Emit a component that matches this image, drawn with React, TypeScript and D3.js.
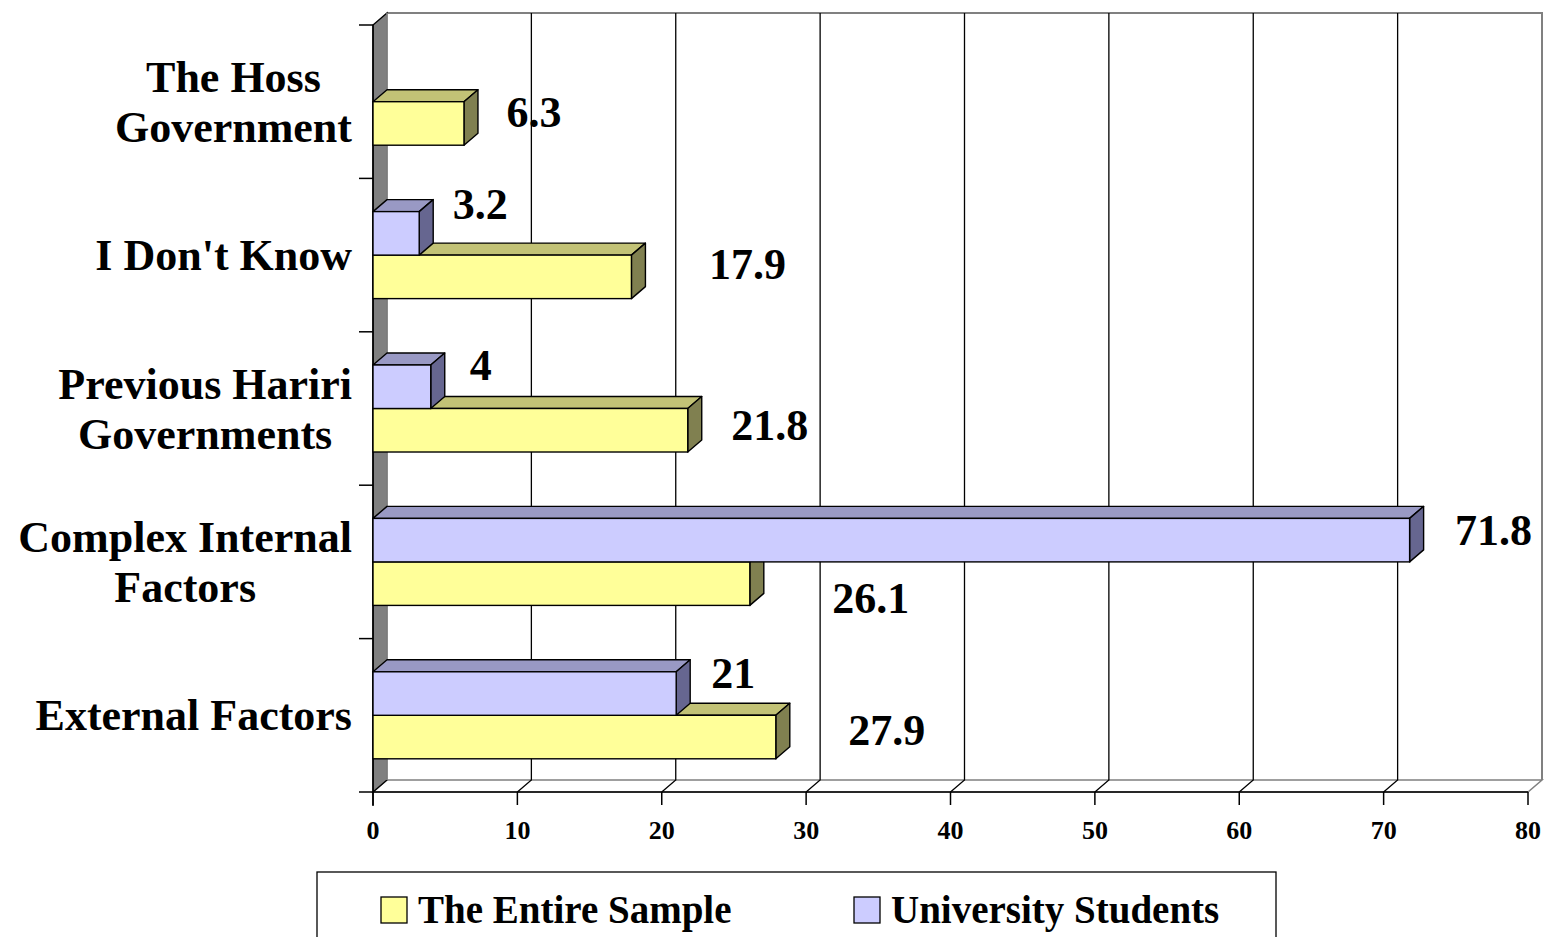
import React, { useEffect, useRef } from "react";
import * as d3 from "d3";

const categories = [
  "The Hoss Government",
  "I Don't Know",
  "Previous Hariri Governments",
  "Complex Internal Factors",
  "External Factors",
];
const categoryLines = [
  ["The Hoss", "Government"],
  ["I Don't Know"],
  ["Previous Hariri", "Governments"],
  ["Complex Internal", "Factors"],
  ["External Factors"],
];
const entireSample = [6.3, 17.9, 21.8, 26.1, 27.9];
const universityStudents: (number | null)[] = [null, 3.2, 4, 71.8, 21];
const xTicks = [0, 10, 20, 30, 40, 50, 60, 70, 80];
const seriesNames = ["The Entire Sample", "University Students"];

// label nudges (pixels): from bar end to label centre, from bar centre to baseline
const entireNudgeX = [70, 116, 82, 121, 111];
const entireNudgeY = [3.5, 2, 10, 29.5, 8];
const studentNudgeX = [0, 61, 50, 84, 57];
const studentNudgeY = [0, -14.5, -7, 5, -5.5];

const FONT = "'Liberation Serif', 'Times New Roman', serif";
const DX = 14;
const DY = -12;

const COLORS = {
  entire: { front: "#FFFF99", top: "#C2C276", side: "#808050" },
  students: { front: "#CCCCFF", top: "#9999C4", side: "#666690" },
};

export default function App() {
  const ref = useRef<SVGSVGElement>(null);

  useEffect(() => {
    const svg = d3.select(ref.current);
    svg.selectAll("*").remove();

    const x = d3.scaleLinear().domain([0, 80]).range([373, 1528]);
    const y = d3.scaleBand().domain(categories).range([25, 792]);
    const inner = d3
      .scaleBand()
      .domain(["students", "entire"])
      .range([0, y.bandwidth()])
      .paddingOuter(0.763);

    const x0 = x(0);
    const x1 = x(80);
    const yTop = 25;
    const yBot = 792;

    const g = svg.append("g");

    // floor
    g.append("path")
      .attr(
        "d",
        `M${x0},${yBot}L${x1},${yBot}L${x1 + DX},${yBot + DY}L${x0 + DX},${yBot + DY}Z`
      )
      .attr("fill", "#fff")
      .attr("stroke", "#808080")
      .attr("stroke-width", 1.5);

    // back wall outline
    g.append("path")
      .attr(
        "d",
        `M${x0 + DX},${yTop + DY}L${x1 + DX},${yTop + DY}L${x1 + DX},${yBot + DY}`
      )
      .attr("fill", "none")
      .attr("stroke", "#808080")
      .attr("stroke-width", 2);

    // gridlines
    xTicks.forEach((t) => {
      if (t === 0 || t === 80) return;
      const xt = x(t);
      g.append("path")
        .attr(
          "d",
          `M${xt},${yBot}L${xt + DX},${yBot + DY}L${xt + DX},${yTop + DY}`
        )
        .attr("fill", "none")
        .attr("stroke", "#000")
        .attr("stroke-width", 1.3);
    });

    // left wall
    g.append("path")
      .attr(
        "d",
        `M${x0},${yTop}L${x0 + DX},${yTop + DY}L${x0 + DX},${yBot + DY}L${x0},${yBot}Z`
      )
      .attr("fill", "#808080")
      .attr("stroke", "#000")
      .attr("stroke-width", 1.3);
    g.append("line")
      .attr("x1", x0 + DX)
      .attr("x2", x0 + DX)
      .attr("y1", yTop + DY)
      .attr("y2", yBot + DY)
      .attr("stroke", "#a8a8a8")
      .attr("stroke-width", 1.3);

    // category axis ticks
    const bounds = categories.map((c) => y(c)!).concat([yBot]);
    bounds.forEach((b) => {
      g.append("line")
        .attr("x1", x0 - 14)
        .attr("x2", x0)
        .attr("y1", b)
        .attr("y2", b)
        .attr("stroke", "#000")
        .attr("stroke-width", 1.5);
    });
    g.append("line")
      .attr("x1", x0)
      .attr("x2", x0)
      .attr("y1", yTop)
      .attr("y2", yBot + 14)
      .attr("stroke", "#000")
      .attr("stroke-width", 1.5);

    // value axis
    g.append("line")
      .attr("x1", x0)
      .attr("x2", x1)
      .attr("y1", yBot)
      .attr("y2", yBot)
      .attr("stroke", "#000")
      .attr("stroke-width", 1.5);
    xTicks.forEach((t) => {
      g.append("line")
        .attr("x1", x(t))
        .attr("x2", x(t))
        .attr("y1", yBot)
        .attr("y2", yBot + 13)
        .attr("stroke", "#000")
        .attr("stroke-width", 1.5);
      g.append("text")
        .attr("x", x(t))
        .attr("y", 839)
        .attr("text-anchor", "middle")
        .attr("font-family", FONT)
        .attr("font-weight", "bold")
        .attr("font-size", 26)
        .text(String(t));
    });

    const bar = (
      cat: string,
      key: "entire" | "students",
      v: number
    ) => {
      const c = COLORS[key];
      const by = y(cat)! + inner(key)!;
      const h = inner.bandwidth();
      const xe = x(v);
      const bg = g.append("g");
      bg.append("path")
        .attr(
          "d",
          `M${x0},${by}L${x0 + DX},${by + DY}L${xe + DX},${by + DY}L${xe},${by}Z`
        )
        .attr("fill", c.top)
        .attr("stroke", "#000")
        .attr("stroke-width", 1.4)
        .attr("stroke-linejoin", "round");
      bg.append("path")
        .attr(
          "d",
          `M${xe},${by}L${xe + DX},${by + DY}L${xe + DX},${by + h + DY}L${xe},${by + h}Z`
        )
        .attr("fill", c.side)
        .attr("stroke", "#000")
        .attr("stroke-width", 1.4)
        .attr("stroke-linejoin", "round");
      bg.append("rect")
        .attr("x", x0)
        .attr("y", by)
        .attr("width", xe - x0)
        .attr("height", h)
        .attr("fill", c.front)
        .attr("stroke", "#000")
        .attr("stroke-width", 1.4);
      return { xe, cy: by + h / 2 };
    };

    const labels: { x: number; y: number; t: string }[] = [];
    categories.forEach((cat, i) => {
      const e = entireSample[i];
      const r = bar(cat, "entire", e);
      labels.push({
        x: r.xe + entireNudgeX[i],
        y: r.cy + entireNudgeY[i],
        t: String(e),
      });
      const s = universityStudents[i];
      if (s != null) {
        const r2 = bar(cat, "students", s);
        labels.push({
          x: r2.xe + studentNudgeX[i],
          y: r2.cy + studentNudgeY[i],
          t: String(s),
        });
      }
    });

    labels.forEach((l) => {
      g.append("text")
        .attr("x", l.x)
        .attr("y", l.y)
        .attr("text-anchor", "middle")
        .attr("font-family", FONT)
        .attr("font-weight", "bold")
        .attr("font-size", 44)
        .text(l.t);
    });

    // category labels: block right-aligned at 352, lines centred within block
    const lineH = 50;
    categories.forEach((cat, i) => {
      const lines = categoryLines[i];
      const cy = y(cat)! + y.bandwidth() / 2;
      const texts = lines.map((ln, j) =>
        g
          .append("text")
          .attr("font-family", FONT)
          .attr("font-weight", "bold")
          .attr("font-size", 44)
          .attr("text-anchor", "middle")
          .attr("y", cy + 15 + (j - (lines.length - 1) / 2) * lineH)
          .text(ln)
      );
      const widths = texts.map(
        (t) => (t.node() as SVGTextElement).getComputedTextLength()
      );
      const maxW = Math.max(...widths);
      texts.forEach((t) => t.attr("x", 352 - maxW / 2));
    });

    // legend
    const lg = svg.append("g");
    lg.append("rect")
      .attr("x", 317)
      .attr("y", 872)
      .attr("width", 959)
      .attr("height", 120)
      .attr("fill", "#fff")
      .attr("stroke", "#000")
      .attr("stroke-width", 1.3);
    const legendItems = [
      { name: seriesNames[0], color: COLORS.entire.front, sx: 381, tx: 418 },
      { name: seriesNames[1], color: COLORS.students.front, sx: 854, tx: 891 },
    ];
    legendItems.forEach((it) => {
      lg.append("rect")
        .attr("x", it.sx)
        .attr("y", 897)
        .attr("width", 26)
        .attr("height", 26)
        .attr("fill", it.color)
        .attr("stroke", "#000")
        .attr("stroke-width", 1.3);
      lg.append("text")
        .attr("x", it.tx)
        .attr("y", 923)
        .attr("font-family", FONT)
        .attr("font-weight", "bold")
        .attr("font-size", 39)
        .text(it.name);
    });
  }, []);

  return (
    <svg
      ref={ref}
      width={1547}
      height={937}
      style={{ position: "absolute", left: 0, top: 0, background: "#fff" }}
    />
  );
}
